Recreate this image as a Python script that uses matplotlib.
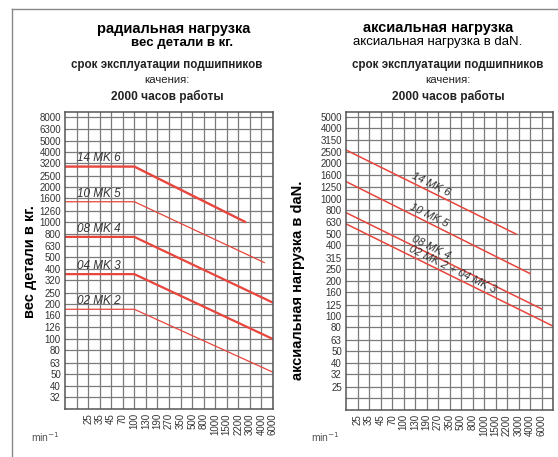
import numpy as np
import matplotlib
matplotlib.use('Agg')
import matplotlib.pyplot as plt
from matplotlib.ticker import FixedLocator, NullFormatter

plt.rcParams['font.family'] = ['Liberation Sans', 'DejaVu Sans']

# ---- data ----
rpm_labels = ['25', '35', '45', '70', '100', '130', '190', '270', '350', '500',
              '800', '1000', '1500', '2200', '3000', '4000', '6000']
rpm_values = [float(v) for v in rpm_labels]

left_ylabels = ['8000', '6300', '5000', '4000', '3200', '2500', '2000', '1600', '1260',
                '1000', '800', '630', '500', '400', '320', '250', '200', '160', '126',
                '100', '80', '63', '50', '40', '32']
right_ylabels = ['5000', '4000', '3150', '2500', '2000', '1600', '1250', '1000', '800',
                 '630', '500', '400', '315', '250', '200', '160', '125', '100', '80',
                 '63', '50', '40', '32', '25']

# radial load: flat up to the knee, then falling
left_names = ['14 MK 6', '10 MK 5', '08 MK 4', '04 MK 3', '02 MK 2']
left_knee = 100
left_level = [3000, 1500, 750, 360, 180]
left_end_rpm = [2700, 4500, 6000, 6000, 6000]
left_end_val = [1000, 450, 205, 100, 52]
left_lw = [1.7, 0.9, 1.6, 1.6, 0.9]

# axial load: straight lines from the left edge
right_names = ['14 MK 6', '10 MK 5', '08 MK 4', '02 MK 2 + 04 MK 3']
right_start_val = [2600, 1400, 760, 610]
right_end_rpm = [2800, 4000, 6000, None]   # None = runs to the right edge
right_end_val = [500, 230, 115, 82]
right_label_rpm = [200, 190, 200, 350]

RED = '#e8453c'
GRID = '#7a7a7a'

# ---- speed axis: one grid column per listed speed ----
xk = np.log(np.array(rpm_values))
idx = np.arange(len(xk), dtype=float)


def fwd(x):
    with np.errstate(divide='ignore', invalid='ignore'):
        lx = np.log(np.maximum(np.asarray(x, float), 1e-9))
    out = np.interp(lx, xk, idx)
    out = np.where(lx < xk[0], (lx - xk[0]) / (xk[1] - xk[0]), out)
    out = np.where(lx > xk[-1], idx[-1] + (lx - xk[-1]) / (xk[-1] - xk[-2]), out)
    return out


def inv(i):
    i = np.asarray(i, float)
    lx = np.interp(i, idx, xk)
    lx = np.where(i < 0, xk[0] + i * (xk[1] - xk[0]), lx)
    lx = np.where(i > idx[-1], xk[-1] + (i - idx[-1]) * (xk[-1] - xk[-2]), lx)
    return np.exp(lx)


def setup(ax, ylabels, ylim, xlim_idx, extra_x, extra_y):
    ax.set_xscale('function', functions=(fwd, inv))
    ax.set_yscale('log')
    ax.set_xlim(float(inv(xlim_idx[0])), float(inv(xlim_idx[1])))
    ax.set_ylim(*ylim)
    ax.set_xticks(rpm_values, rpm_labels, rotation=90)
    ax.xaxis.set_minor_locator(FixedLocator(inv(extra_x)))
    ax.xaxis.set_minor_formatter(NullFormatter())
    yv = [float(v) for v in ylabels]
    ax.yaxis.set_major_locator(FixedLocator(yv))
    ax.set_yticklabels(ylabels)
    ax.yaxis.set_minor_locator(FixedLocator(extra_y))
    ax.yaxis.set_minor_formatter(NullFormatter())
    ax.grid(True, which='both', color=GRID, lw=0.9)
    ax.set_axisbelow(True)
    ax.tick_params(which='both', length=0, labelsize=7, labelcolor='#333333', pad=3)
    for s in ax.spines.values():
        s.set_color('#555555')
        s.set_linewidth(1.1)


def on_line(xs, ys, x):
    return float(np.exp(np.interp(fwd(x), fwd(xs), np.log(ys))))


fig = plt.figure(figsize=(5.58, 4.57), dpi=100)
W, H = 558.0, 457.0

axl = fig.add_axes([65 / W, 1 - 409 / H, 208 / W, 297 / H])
axr = fig.add_axes([346 / W, 1 - 410 / H, 207 / W, 298 / H])

setup(axl, left_ylabels, (25.2, 8800), (-2, 16), [-1], [])
setup(axr, right_ylabels, (15.8, 5480), (-1, 17), [17], [20])

# radial
x0 = axl.get_xlim()[0]
for name, lvl, xe, ye, lw in zip(left_names, left_level, left_end_rpm, left_end_val, left_lw):
    axl.plot([x0, left_knee, xe], [lvl, lvl, ye], color=RED, lw=lw, solid_capstyle='butt')
    axl.annotate(name, xy=(0.06, lvl), xycoords=('axes fraction', 'data'),
                 xytext=(0, 1.5), textcoords='offset points', va='bottom', ha='left',
                 fontsize=8.5, style='italic', color='#333333')

# axial
x0, x1 = axr.get_xlim()
for name, ys, xe, ye, xt in zip(right_names, right_start_val, right_end_rpm,
                                right_end_val, right_label_rpm):
    xe = x1 if xe is None else xe
    xs = [x0, xe]
    yy = [ys, ye]
    axr.plot(xs, yy, color=RED, lw=1.1)
    axr.annotate(name, xy=(xt, on_line(xs, yy, xt)), xytext=(0.5, 1),
                 textcoords='offset points', rotation=-26, rotation_mode='anchor',
                 ha='center', va='bottom', fontsize=8, style='italic', color='#333333')

# titles
fig.text(174 / W, 1 - 29 / H, 'радиальная нагрузка', ha='center', va='center',
         fontsize=10.5, weight='bold')
fig.text(182 / W, 1 - 43 / H, 'вес детали в кг.', ha='center', va='center',
         fontsize=9.5, weight='bold')
fig.text(438 / W, 1 - 28 / H, 'аксиальная нагрузка', ha='center', va='center',
         fontsize=10.5, weight='bold')
fig.text(438 / W, 1 - 42 / H, 'аксиальная нагрузка в daN.', ha='center', va='center',
         fontsize=9.5)
for cx in (167, 448):
    fig.text(cx / W, 1 - 65 / H, 'срок эксплуатации подшипников', ha='center',
             va='center', fontsize=8.4, weight='bold', color='#222222')
    fig.text(cx / W, 1 - 80 / H, 'качения:', ha='center', va='center', fontsize=8.2,
             color='#222222')
    fig.text(cx / W, 1 - 96 / H, '2000 часов работы', ha='center', va='center',
             fontsize=8.6, weight='bold', color='#222222')

fig.text(30 / W, 1 - 262 / H, 'вес детали в кг.', rotation=90, ha='center', va='center',
         fontsize=10.5, weight='bold')
fig.text(298 / W, 1 - 280 / H, 'аксиальная нагрузка в daN.', rotation=90, ha='center',
         va='center', fontsize=10.5, weight='bold')

fig.text(45 / W, 1 - 437 / H, 'min$^{-1}$', ha='center', va='center', fontsize=7.5,
         color='#555555')
fig.text(325 / W, 1 - 437 / H, 'min$^{-1}$', ha='center', va='center', fontsize=7.5,
         color='#555555')

# outer frame (top and left edges visible)
fig.add_artist(plt.Line2D([12 / W, 1], [1 - 9 / H, 1 - 9 / H], color='#888888', lw=1))
fig.add_artist(plt.Line2D([12 / W, 12 / W], [0, 1 - 9 / H], color='#888888', lw=1))

fig.savefig('out.png', dpi=100)
